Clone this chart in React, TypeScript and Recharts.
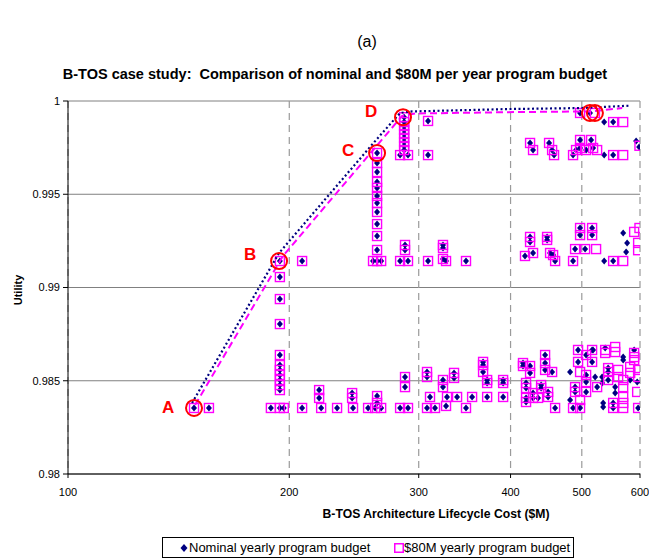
import React from "react";
import { ScatterChart, Scatter, XAxis, YAxis, CartesianGrid } from "recharts";

type Pt = [number, number];

const FONT = "'Liberation Sans', Arial, sans-serif";
const NAVY = "#000080";
const MAGENTA = "#FF00FF";

const xTicks = [100, 200, 300, 400, 500, 600];
const yTicks = [0.98, 0.985, 0.99, 0.995, 1];

// Pareto frontier lines (cost $M, utility)
const nominalFrontier: Pt[] = [
  [147.5, 0.98381], [193.7, 0.99185], [262.5, 0.99791], [283.0, 0.99936],
  [293.8, 0.99944], [399.3, 0.99957], [497.3, 0.99962], [581.6, 0.99975]
];
const budgetFrontier: Pt[] = [
  [148.9, 0.9837], [196.1, 0.99169], [264.2, 0.99769], [284.8, 0.9992],
  [296.6, 0.99933], [412.1, 0.99941], [513.3, 0.99944], [567.4, 0.99962]
];

// architectures feasible under both budgets
const sharedPoints: Pt[] = [
  [148.4, 0.98354], [155.5, 0.98354], [188.8, 0.98354], [194.2, 0.98354], [196.6, 0.98354],
  [194.2, 0.9845], [194.2, 0.98477], [194.2, 0.98504], [194.2, 0.98531], [194.2, 0.98558],
  [194.2, 0.98584], [194.2, 0.98638], [194.2, 0.98804], [194.2, 0.98938], [194.2, 0.99056],
  [194.2, 0.99142], [208.2, 0.99142], [208.2, 0.98354],
  [219.6, 0.9845], [219.6, 0.98408], [221.0, 0.98354], [232.3, 0.98354],
  [243.5, 0.98434], [243.5, 0.98408], [244.2, 0.98354],
  [256.0, 0.98354], [261.7, 0.98354], [266.7, 0.98354], [263.3, 0.98418], [263.3, 0.98381],
  [283.0, 0.98354], [290.1, 0.98354], [287.4, 0.9852], [287.4, 0.98466],
  [307.9, 0.98547], [307.9, 0.9852], [307.9, 0.98354], [310.8, 0.98413], [315.7, 0.98354],
  [323.7, 0.98504], [323.7, 0.98466], [326.8, 0.98365], [327.8, 0.98413],
  [335.1, 0.98542], [335.1, 0.98515], [338.3, 0.98413], [347.9, 0.98354], [354.6, 0.98413],
  [367.0, 0.98601], [367.0, 0.98584], [367.0, 0.98547],
  [371.7, 0.98504], [371.7, 0.98488], [371.7, 0.98413],
  [390.8, 0.98504], [390.8, 0.98488], [390.8, 0.98413],
  [415.9, 0.98595], [415.9, 0.98579], [419.9, 0.98488], [419.9, 0.98461], [419.9, 0.98408],
  [419.9, 0.98386], [425.2, 0.98579], [425.2, 0.98542], [429.2, 0.98434], [429.2, 0.98408],
  [436.0, 0.98408], [440.2, 0.98477], [440.2, 0.98461],
  [445.7, 0.98638], [445.7, 0.98595], [445.7, 0.98558], [449.9, 0.9844], [449.9, 0.98413],
  [455.6, 0.98547], [459.9, 0.98354], [486.5, 0.98354], [489.6, 0.98466], [489.6, 0.9844],
  [494.2, 0.98665], [494.2, 0.98601], [497.3, 0.98354],
  [506.8, 0.98638], [506.8, 0.98531], [506.8, 0.98493], [506.8, 0.9844],
  [516.4, 0.98665], [516.4, 0.98601], [524.6, 0.98466],
  [543.0, 0.98568], [543.0, 0.98547], [543.0, 0.98504], [551.6, 0.98381], [551.6, 0.98354],
  [596.5, 0.98354],
  [260.0, 0.99142], [266.7, 0.99142],
  [263.3, 0.99721], [263.3, 0.99668], [263.3, 0.99619], [263.3, 0.99566], [263.3, 0.99534],
  [263.3, 0.99491], [263.3, 0.99453], [263.3, 0.99405], [263.3, 0.9934], [263.3, 0.99276],
  [263.3, 0.99201], [263.3, 0.99142],
  [286.6, 0.99913], [286.6, 0.99887], [286.6, 0.99866], [286.6, 0.99845], [286.6, 0.99823],
  [286.6, 0.99802], [286.6, 0.9978], [286.6, 0.99759], [286.6, 0.99737],
  [283.0, 0.9971], [290.1, 0.9971],
  [308.9, 0.99893], [308.9, 0.9971], [308.9, 0.99142],
  [287.4, 0.99228], [287.4, 0.99201], [283.0, 0.99142], [290.1, 0.99142],
  [323.7, 0.99228], [323.7, 0.99212], [323.7, 0.99153], [326.8, 0.99142], [347.9, 0.99142],
  [425.2, 0.99271], [425.2, 0.99244], [418.5, 0.99169], [429.2, 0.99185],
  [448.5, 0.99271], [448.5, 0.99255], [452.7, 0.99185], [457.0, 0.99174], [459.9, 0.99142],
  [486.5, 0.99142], [489.6, 0.99206], [497.3, 0.99319], [497.3, 0.99281], [505.2, 0.99206],
  [516.4, 0.99319], [516.4, 0.99281], [551.6, 0.99142],
  [425.2, 0.99775], [429.2, 0.99737], [451.3, 0.99775], [455.6, 0.99737], [458.4, 0.9971],
  [486.5, 0.9971], [491.1, 0.99737], [497.3, 0.99791], [497.3, 0.99748], [506.8, 0.99737],
  [514.8, 0.99791], [518.0, 0.99748], [551.6, 0.9971],
  [497.3, 0.99936], [551.6, 0.99887]
];

const nominalOnly: Pt[] = [
  [482.0, 0.98547], [482.0, 0.98397], [518.0, 0.98665], [521.3, 0.9852], [532.9, 0.9852],
  [532.9, 0.98488], [534.6, 0.98381], [534.6, 0.98359], [538.0, 0.98676], [555.1, 0.98466],
  [555.1, 0.98434], [569.2, 0.98627], [569.2, 0.98611], [581.8, 0.98504], [589.1, 0.98665],
  [594.7, 0.98493],
  [536.3, 0.99142], [569.2, 0.99292], [576.3, 0.99239], [574.5, 0.9919],
  [536.3, 0.9971], [592.8, 0.99786], [598.4, 0.99753], [536.3, 0.99887], [513.0, 0.99936]
];

const budgetOnly: Pt[] = [
  [560.3, 0.98558], [560.3, 0.9852], [569.2, 0.98504], [569.2, 0.98466], [569.2, 0.98413],
  [569.2, 0.98381], [569.2, 0.98354], [581.8, 0.98574], [581.8, 0.98542], [596.5, 0.98558],
  [596.5, 0.9852], [594.7, 0.9844], [555.1, 0.98681], [555.1, 0.98654], [589.1, 0.98649],
  [589.1, 0.98627], [589.1, 0.98611], [497.3, 0.98547], [497.3, 0.98397], [538.0, 0.98665],
  [538.0, 0.98649],
  [522.9, 0.99206], [569.2, 0.99142], [589.1, 0.99298], [596.5, 0.99239], [596.5, 0.992],
  [599.0, 0.99319], [524.6, 0.99737], [569.2, 0.9971], [599.0, 0.9976], [569.2, 0.99887],
  [521.0, 0.99936]
];

const highlightNames = ["A", "B", "C", "D", "E", "E\u2019"];
const highlightPoints: Pt[] = [
  [148.4, 0.98354], [193.7, 0.99142], [263.3, 0.99721], [285.6, 0.99913], [513.0, 0.99936], [521.0, 0.99936]
];
// label placement relative to the circle, in px
const labelOffsets: Pt[] = [[-26, 0], [-29, -7], [-29, -3], [-32, -6], [-13, -23], [17, -23]];

const toRows = (pts: Pt[]) => pts.map(([cost, utility]) => ({ cost, utility }));

const nominalPoints = toRows([...sharedPoints, ...nominalOnly]);
const budgetPoints = toRows([...sharedPoints, ...budgetOnly]);
const highlights = highlightPoints.map(([cost, utility], i) => ({
  cost, utility, name: highlightNames[i], dx: labelOffsets[i][0], dy: labelOffsets[i][1]
}));

const Diamond = (props: any) => {
  const { cx, cy } = props;
  if (cx == null || cy == null) return <g />;
  return (
    <polygon
      points={`${cx},${cy - 3.5} ${cx + 3},${cy} ${cx},${cy + 3.5} ${cx - 3},${cy}`}
      fill={NAVY}
    />
  );
};

const Square = (props: any) => {
  const { cx, cy } = props;
  if (cx == null || cy == null) return <g />;
  return <rect x={cx - 4.5} y={cy - 4.5} width={9} height={9} fill="none" stroke={MAGENTA} strokeWidth={1.4} />;
};

const Marker = (props: any) => {
  const { cx, cy, payload } = props;
  if (cx == null || cy == null) return <g />;
  return (
    <g>
      <circle cx={cx} cy={cy} r={8} fill="none" stroke="#FF0000" strokeWidth={2} />
      <text
        x={cx + payload.dx}
        y={cy + payload.dy}
        textAnchor="middle"
        dominantBaseline="central"
        fill="#FF0000"
        fontFamily={FONT}
        fontWeight="bold"
        fontSize={17}
      >
        {payload.name}
      </text>
    </g>
  );
};

const Nothing = () => <g />;

export default function App() {
  return (
    <div style={{ position: "absolute", left: 0, top: 0, width: 649, height: 560, background: "#fff", fontFamily: FONT }}>
      <div style={{ position: "absolute", left: 267, top: 32, width: 200, textAlign: "center", fontSize: 16, lineHeight: "20px" }}>
        (a)
      </div>
      <div style={{ position: "absolute", left: 0, top: 66, width: 670, textAlign: "center", fontSize: 14.5, fontWeight: "bold", lineHeight: "17px", whiteSpace: "nowrap" }}>
        B-TOS case study:&nbsp; Comparison of nominal and $80M per year program budget
      </div>

      <ScatterChart
        width={649}
        height={560}
        margin={{ top: 101, right: 9, bottom: 56, left: 0 }}
        style={{ position: "absolute", left: 0, top: 0 }}
      >
        <CartesianGrid vertical={false} stroke="#808080" strokeWidth={1} />
        <CartesianGrid horizontal={false} stroke="#9a9a9a" strokeDasharray="7 5" strokeWidth={1.2} />
        <XAxis
          type="number"
          dataKey="cost"
          scale="log"
          domain={[100, 600]}
          ticks={xTicks}
          allowDataOverflow
          height={30}
          tickSize={4}
          tickMargin={10}
          stroke="#000"
          tick={{ fill: "#000", fontSize: 11, fontFamily: FONT }}
        />
        <YAxis
          type="number"
          dataKey="utility"
          domain={[0.98, 1]}
          ticks={yTicks}
          allowDataOverflow
          width={68}
          tickSize={5}
          tickMargin={3}
          stroke="#000"
          tick={{ fill: "#000", fontSize: 11, fontFamily: FONT }}
          tickFormatter={(v: number) => String(v)}
        />
        <Scatter data={nominalPoints} shape={<Diamond />} isAnimationActive={false} />
        <Scatter data={budgetPoints} shape={<Square />} isAnimationActive={false} />
        <Scatter
          data={toRows(budgetFrontier)}
          line={{ stroke: MAGENTA, strokeWidth: 2, strokeDasharray: "7 4" }}
          shape={<Nothing />}
          isAnimationActive={false}
        />
        <Scatter
          data={toRows(nominalFrontier)}
          line={{ stroke: NAVY, strokeWidth: 2.2, strokeDasharray: "2 2.5" }}
          shape={<Nothing />}
          isAnimationActive={false}
        />
        <Scatter data={highlights} shape={<Marker />} isAnimationActive={false} />
      </ScatterChart>

      <div
        style={{
          position: "absolute", left: -12, top: 283, width: 60, textAlign: "center",
          fontSize: 11, fontWeight: "bold", lineHeight: "14px", transform: "rotate(-90deg)"
        }}
      >
        Utility
      </div>
      <div style={{ position: "absolute", left: 286, top: 507, width: 300, textAlign: "center", fontSize: 12.2, fontWeight: "bold", lineHeight: "15px", whiteSpace: "nowrap" }}>
        B-TOS Architecture Lifecycle Cost ($M)
      </div>

      <div
        style={{
          position: "absolute", left: 162, top: 537, width: 412, height: 21, boxSizing: "border-box",
          border: "1px solid #000", fontSize: 13, lineHeight: "19px", whiteSpace: "nowrap"
        }}
      >
        <svg width={8} height={8} style={{ position: "absolute", left: 17, top: 5.5 }}>
          <polygon points="4,0 7.5,4 4,8 0.5,4" fill={NAVY} />
        </svg>
        <span style={{ position: "absolute", left: 26, top: 0 }}>Nominal yearly program budget</span>
        <svg width={10} height={10} style={{ position: "absolute", left: 231, top: 4.5 }}>
          <rect x={0.75} y={0.75} width={8.5} height={8.5} fill="none" stroke={MAGENTA} strokeWidth={1.5} />
        </svg>
        <span style={{ position: "absolute", left: 241, top: 0 }}>$80M yearly program budget</span>
      </div>
    </div>
  );
}
